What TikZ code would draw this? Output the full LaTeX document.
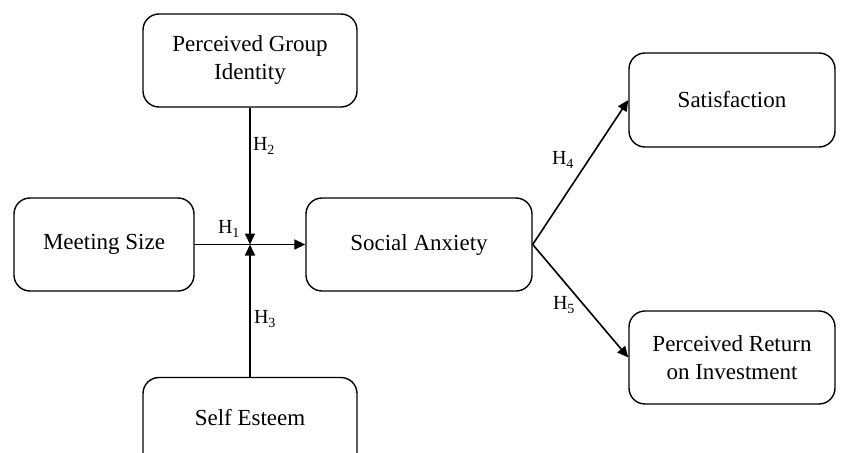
\documentclass[tikz,border=0pt]{standalone}
\usepackage{fontspec}
\setmainfont{Liberation Serif}
\usetikzlibrary{arrows.meta}
\begin{document}
\begin{tikzpicture}[x=1pt,y=-1pt,
  box/.style={draw,line width=1.4pt,rounded corners=16pt,align=center,inner sep=0pt,font=\fontsize{23}{28}\selectfont},
  conn/.style={line width=1.6pt,-{Triangle[length=11pt,width=10pt]}},
  hlab/.style={font=\fontsize{20}{23}\selectfont,inner sep=0pt}]
\useasboundingbox (0,0) rectangle (845,452);
\node[box,minimum width=214pt,minimum height=93pt] (pgi) at (250,60.5) {Perceived Group\\Identity};
\node[box,minimum width=180pt,minimum height=93pt] (ms) at (104,244.5) {Meeting Size};
\node[box,minimum width=226pt,minimum height=93pt] (sa) at (419,244.5) {Social Anxiety};
\node[box,minimum width=214pt,minimum height=93pt] (se) at (250,424) {};
\node[font=\fontsize{23}{28}\selectfont] (setext) at (250,418) {Self Esteem};
\node[box,minimum width=206pt,minimum height=94pt] (sat) at (732,100) {Satisfaction};
\node[box,minimum width=206pt,minimum height=93pt] (pri) at (732,357.5) {Perceived Return\\on Investment};
\coordinate (j) at (250,244.5);
\draw[conn] (pgi.south) -- (j);
\draw[conn] (se.north) -- (j);
\draw[conn] (ms.east) -- (sa.west);
\draw[conn] (sa.east) -- (sat.west);
\draw[conn] (sa.east) -- (pri.west);
\node[hlab] (h1) at (229,229) {H\textsubscript{1}};
\node[hlab] (h2) at (264,146) {H\textsubscript{2}};
\node[hlab] (h3) at (265,319) {H\textsubscript{3}};
\node[hlab] (h4) at (563,160) {H\textsubscript{4}};
\node[hlab] (h5) at (564,305) {H\textsubscript{5}};
\end{tikzpicture}
\end{document}
